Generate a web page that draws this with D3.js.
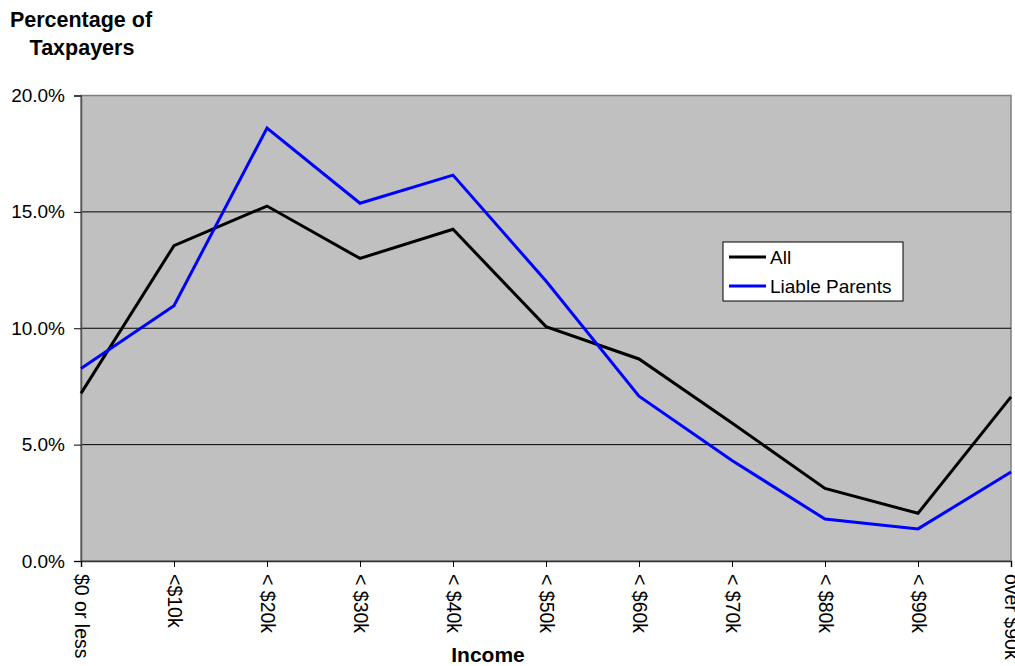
<!DOCTYPE html>
<html>
<head>
<meta charset="utf-8">
<script src="https://cdn.jsdelivr.net/npm/d3@7"></script>
<style>
  html, body { margin: 0; padding: 0; background: #fff; }
  svg { display: block; font-family: Arial, "Liberation Sans", sans-serif; }
</style>
</head>
<body>
<svg id="chart" width="1015" height="666"></svg>
<script>
// Income brackets along the x axis
const categories = ["$0 or less", "<$10k", "< $20k", "< $30k", "< $40k", "< $50k",
                    "< $60k", "< $70k", "< $80k", "< $90k", "over $90k"];
// Share of taxpayers in each bracket (%)
const allValues    = [7.2, 13.55, 15.25, 13.0, 14.25, 10.07, 8.68, 5.93, 3.12, 2.05, 7.05];
const liableValues = [8.27, 10.97, 18.6, 15.37, 16.58, 12.03, 7.08, 4.32, 1.8, 1.38, 3.82];
const yTicks = [0, 5, 10, 15, 20];

const seriesList = [
  { name: "All", values: allValues, color: "#000000" },
  { name: "Liable Parents", values: liableValues, color: "#0000ff" }
];

const FONT = "Arial, 'Liberation Sans', sans-serif";
const svg = d3.select("#chart");
const plot = { left: 81, right: 1011, top: 95.5, bottom: 561 };

const x = d3.scalePoint().domain(categories).range([plot.left, plot.right]);
const y = d3.scaleLinear().domain([0, 20]).range([plot.bottom, plot.top]);

// Plot background
svg.append("rect")
  .attr("x", plot.left).attr("y", plot.top)
  .attr("width", plot.right - plot.left).attr("height", plot.bottom - plot.top)
  .attr("fill", "#c0c0c0").attr("stroke", "#808080").attr("stroke-width", 1.5);

// Horizontal gridlines
svg.append("g").selectAll("line")
  .data(yTicks.filter(d => d > 0 && d < 20))
  .join("line")
  .attr("x1", plot.left).attr("x2", plot.right)
  .attr("y1", d => y(d)).attr("y2", d => y(d))
  .attr("stroke", "#000").attr("stroke-width", 1);

// Y axis
const yAxis = svg.append("g")
  .attr("transform", `translate(${plot.left},0)`)
  .call(d3.axisLeft(y).tickValues(yTicks).tickFormat(d => d3.format(".1f")(d) + "%").tickSize(7).tickPadding(9));
yAxis.select(".domain").attr("stroke", "#555").attr("stroke-width", 1.5);
yAxis.selectAll(".tick line").attr("stroke", "#000");
yAxis.selectAll(".tick text").attr("font-size", 19).attr("fill", "#000")
  .attr("font-family", FONT);

// X axis
const xAxis = svg.append("g")
  .attr("transform", `translate(0,${plot.bottom})`)
  .call(d3.axisBottom(x).tickSize(6).tickPadding(0));
xAxis.select(".domain").attr("stroke", "#333").attr("stroke-width", 1.5);
xAxis.selectAll(".tick line").attr("stroke", "#000");
xAxis.selectAll(".tick text")
  .attr("font-size", 19.5).attr("fill", "#000")
  .attr("font-family", FONT)
  .attr("text-anchor", "start")
  .attr("dy", null)
  .attr("transform", "translate(0,13) rotate(90)")
  .attr("y", 0).attr("x", 0)
  .attr("dominant-baseline", "central");

// Series lines
const line = d3.line().x((d, i) => x(categories[i])).y(d => y(d));
svg.append("g").selectAll("path")
  .data(seriesList)
  .join("path")
  .attr("d", d => line(d.values))
  .attr("fill", "none")
  .attr("stroke", d => d.color)
  .attr("stroke-width", 3)
  .attr("stroke-linejoin", "miter");

// Legend
const legend = svg.append("g").attr("transform", "translate(723,242)");
legend.append("rect").attr("width", 180).attr("height", 59)
  .attr("fill", "#fff").attr("stroke", "#000").attr("stroke-width", 1);
const rows = legend.selectAll("g.row").data(seriesList).join("g")
  .attr("class", "row")
  .attr("transform", (d, i) => `translate(0,${15 + i * 29})`);
rows.append("line").attr("x1", 6).attr("x2", 43)
  .attr("stroke", d => d.color).attr("stroke-width", 3);
rows.append("text").attr("x", 47).attr("dy", "0.35em")
  .attr("font-size", 19).attr("fill", "#000").text(d => d.name);

// Axis titles
const yTitle = svg.append("text").attr("text-anchor", "middle")
  .attr("font-size", 21.5).attr("font-weight", "bold").attr("fill", "#000");
yTitle.append("tspan").attr("x", 81).attr("y", 27).text("Percentage of");
yTitle.append("tspan").attr("x", 82).attr("y", 55).text("Taxpayers");

svg.append("text").attr("x", 488).attr("y", 662).attr("text-anchor", "middle")
  .attr("font-size", 21).attr("font-weight", "bold").attr("fill", "#000").text("Income");
</script>
</body>
</html>
